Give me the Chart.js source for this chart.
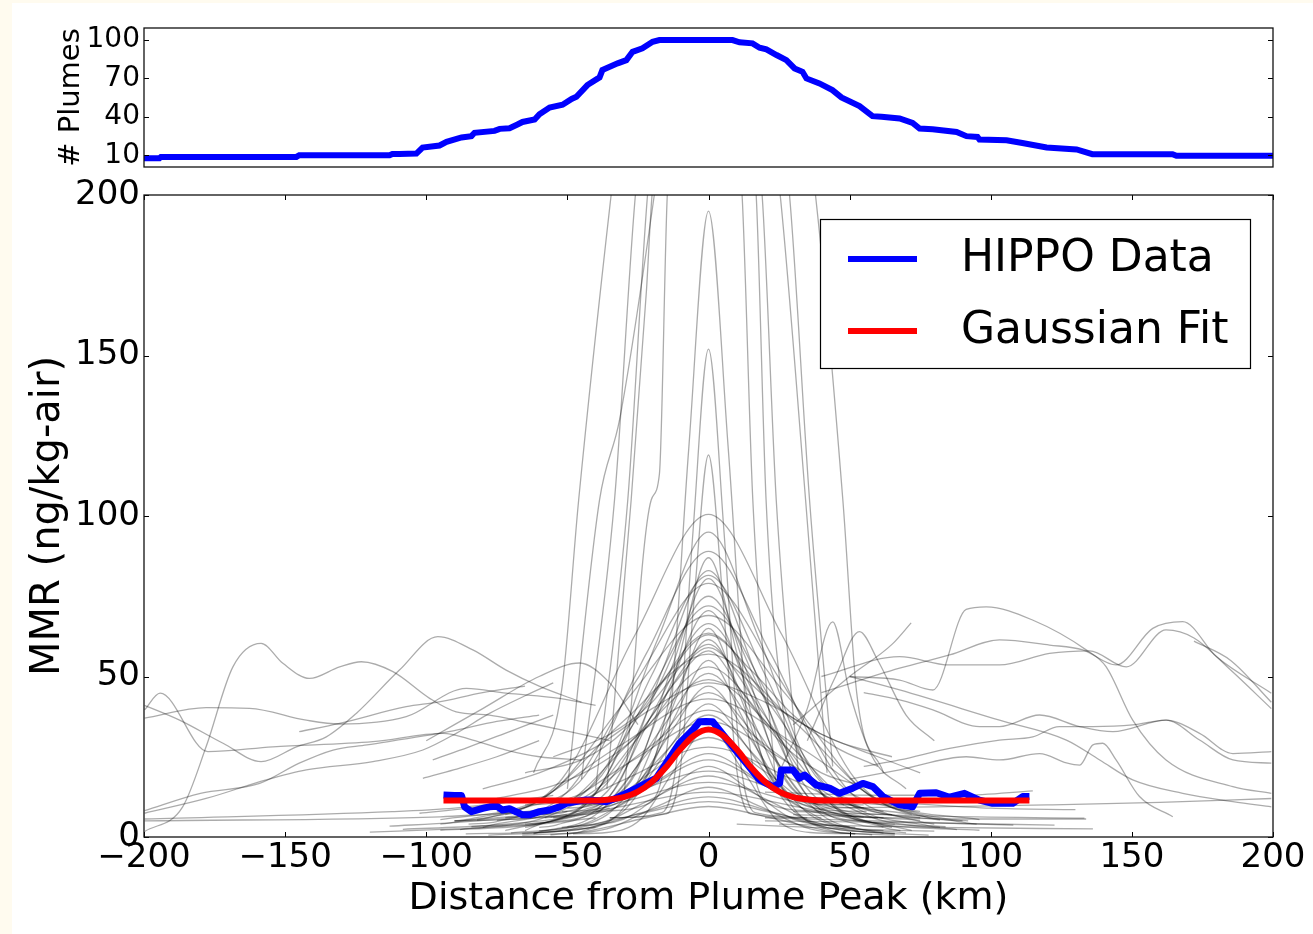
<!DOCTYPE html>
<html>
<head>
<meta charset="utf-8">
<script src="https://cdn.jsdelivr.net/npm/chart.js@4.4.0/dist/chart.umd.min.js"></script>
<style>
html, body { margin: 0; padding: 0; background: #fffbef; }
#sheet { position: absolute; left: 12px; top: 3px; width: 1301px; height: 931px; background: #fff; }
#topWrap { position: absolute; left: 0; top: 0; width: 1313px; height: 195px; }
#mainWrap { position: absolute; left: 0; top: 170px; width: 1313px; height: 764px; }
canvas { display: block; }
</style>
</head>
<body>
<div id="sheet"></div>
<div id="topWrap"><canvas id="plumeChart" width="1313" height="195"></canvas></div>
<div id="mainWrap"><canvas id="mmrChart" width="1313" height="764"></canvas></div>
<script>
// Number of plumes contributing at each distance (top panel)
var plumeDist  = [-200, -194.5, -194, -146, -145, -113, -112, -109.5, -103.5, -101.3, -95.3, -92.8, -87.5, -84, -82.9, -75.8, -74, -70.5, -67.7, -65.9, -61.6, -59.9, -56.3, -51.7, -48.5, -46.8, -42.9, -38.6, -37.6, -32.2, -29.1, -26.9, -23.4, -19.8, -17.4, 8.5, 11, 15.6, 18.1, 20.5, 24.1, 27.6, 30.5, 33.3, 34.7, 39.3, 43.9, 47.1, 53.5, 58.1, 61.3, 67.7, 72.3, 74.8, 79.4, 87.9, 91.4, 95.3, 96, 105.6, 111.2, 119.8, 130.4, 136, 164.4, 165.8, 200]
var plumeCount = [7.7, 7.7, 8.7, 8.7, 10, 10, 11, 11, 11.3, 16, 17.6, 20.4, 23.9, 24.9, 27.5, 29, 30.6, 31.1, 34, 36, 37.9, 42, 47.3, 49.4, 54, 55.6, 64.8, 70.8, 76.5, 81.8, 84.3, 90.8, 93.5, 98.6, 100, 100, 98.2, 97.4, 94, 92.7, 88.3, 84.3, 77.8, 75.2, 70, 66.1, 60.9, 55.2, 48.4, 40.5, 40, 38.7, 35.3, 30.9, 30.3, 28.2, 24.9, 24.3, 22.3, 21.7, 19.6, 16, 14.5, 10.8, 10.8, 9.5, 9.5]
var plumeTicks = [10, 40, 70, 100]

// Composite HIPPO profile
var hippoDist = [-93.9, -90, -87.5, -86.4, -84, -80, -77.6, -75, -73, -70.5, -68, -65.9, -63.4, -59.9, -56.3, -52.8, -50.4, -46, -43.3, -39, -36.2, -33, -29.2, -23.3, -18.5, -15, -10.3, -5.6, -3.2, -1, 1.5, 3.9, 8.6, 13.4, 18.1, 22.8, 25.2, 25.8, 29.9, 32.2, 34, 38.2, 42.9, 46.4, 51.1, 54.7, 58.2, 61.8, 67.7, 72.3, 74.8, 80.7, 85.4, 90.7, 96, 100.7, 107.8, 111.3, 113.7]
var hippoMmr  = [13.1, 12.9, 12.9, 9.4, 7.9, 8.9, 9.4, 9.6, 8.4, 8.8, 7.8, 6.9, 6.9, 7.9, 8.4, 9.4, 10.5, 11.2, 11.5, 11.3, 11, 12, 13.6, 16.2, 18.3, 23, 29.2, 33.3, 35.9, 36, 35.9, 33.3, 28.1, 23, 17.8, 15.7, 16.7, 20.9, 20.9, 18.3, 19.3, 16.2, 15.2, 13.6, 15.2, 16.7, 15.7, 12.6, 10, 9.4, 13.6, 13.8, 12.4, 13.6, 11.5, 10.5, 10.5, 12.6, 12.6]

// Gaussian fit
var fitDist = [-93.9, -60, -40, -35, -30, -25, -20, -15, -10, -5, 0, 5, 10, 15, 20, 25, 30, 35, 40, 60, 113.7]
var fitMmr  = [11.4, 11.4, 11.4, 11.7, 12.4, 14.1, 17.2, 21.8, 27.3, 31.7, 33.5, 31.7, 27.3, 21.8, 17.2, 14.1, 12.4, 11.7, 11.4, 11.4, 11.4]

// Individual plumes, as [km, mmr, km, mmr, ...]
var tallLines = [
    [-62, 20, -52, 46, -46, 105, -34.5, 200, -18, 320, 0, 360, 18, 320, 37.9, 200, 47.6, 105, 52.5, 45, 62, 20],
    [-50, 15, -38.6, 105, -31.5, 130, -19.2, 200, 0, 330, 16.9, 200, 20.4, 105, 28, 25],
    [-45, 18, -33.3, 105, -25.9, 200, 0, 390, 28.7, 200, 35.8, 105, 44, 22],
    [-40, 15, -28.6, 105, -21.6, 200, 0, 370, 25.4, 200, 34.4, 105, 42, 20],
    [-30, 12, -20.3, 105, -17.4, 113, -14.6, 200, 0, 300, 11.9, 200, 15.7, 105, 24, 15],
    [-36, 15, -27.4, 105, -22, 170, -20, 200, 0, 320, 19, 200, 24, 105, 32, 18]
]

var bellLines = [
    [-40, 8, -21, 10.5, -14, 33, -7, 121, 0, 195, 7, 121, 14, 33, 21, 10.5, 40, 8],
    [-35, 6, -16.5, 7.6, -11, 26, -5.5, 95, 0, 152, 5.5, 95, 11, 26, 16.5, 7.6, 40, 6],
    [-35, 6, -15, 7.2, -10, 21, -5, 75, 0, 119, 5, 75, 10, 21, 15, 7.2, 35, 6],
    [-90, 5, -78, 6, -52, 18, -26, 63, 0, 100.5, 26, 63, 52, 18, 78, 6, 90, 5],
    [-65, 10, -54, 10.9, -36, 21.5, -18, 61.6, 0, 95, 18, 61.6, 36, 21.5, 54, 10.9, 65, 10],
    [-75, 8, -66, 8.9, -44, 18.9, -22, 57.2, 0, 89, 22, 57.2, 44, 18.9, 66, 8.9, 75, 8],
    [-45, 12, -30, 12.8, -20, 22.1, -10, 57.5, 0, 87, 10, 57.5, 20, 22.1, 30, 12.8, 45, 12],
    [-55, 6, -48, 6.8, -32, 16.4, -16, 52.7, 0, 83, 16, 52.7, 32, 16.4, 48, 6.8, 60, 6],
    [-65, 3, -60, 3.9, -40, 13.6, -20, 50.6, 0, 81.5, 20, 50.6, 40, 13.6, 60, 3.9, 65, 3],
    [-50, 10, -39, 10.8, -26, 19.5, -13, 52.8, 0, 80.5, 13, 52.8, 26, 19.5, 39, 10.8, 55, 10],
    [-85, 4, -75, 4.8, -50, 14.1, -25, 49.5, 0, 79, 25, 49.5, 50, 14.1, 75, 4.8, 80, 4],
    [-60, 7, -51, 7.7, -34, 16.2, -17, 48.3, 0, 75, 17, 48.3, 34, 16.2, 51, 7.7, 65, 7],
    [-65, 2, -63, 2.8, -42, 11.5, -21, 44.5, 0, 72, 21, 44.5, 42, 11.5, 63, 2.8, 68, 2],
    [-50, 9, -42, 9.7, -28, 17.3, -14, 46.3, 0, 70.5, 14, 46.3, 28, 17.3, 42, 9.7, 55, 9],
    [-90, 5, -84, 5.7, -56, 13.6, -28, 43.8, 0, 69, 28, 43.8, 56, 13.6, 84, 5.7, 92, 5],
    [-60, 3, -54, 3.7, -36, 11.6, -18, 41.5, 0, 66.5, 18, 41.5, 36, 11.6, 54, 3.7, 62, 3],
    [-45, 12, -33, 12.6, -22, 19.2, -11, 44.2, 0, 65, 11, 44.2, 22, 19.2, 33, 12.6, 48, 12],
    [-72, 6, -66, 6.6, -44, 13.8, -22, 40.9, 0, 63.5, 22, 40.9, 44, 13.8, 66, 6.6, 75, 6],
    [-50, 1, -45, 1.7, -30, 9.2, -15, 37.7, 0, 61.5, 15, 37.7, 30, 9.2, 45, 1.7, 52, 1],
    [-62, 8, -57, 8.6, -38, 14.9, -19, 39, 0, 59, 19, 39, 38, 14.9, 57, 8.6, 62, 8],
    [-95, 4, -90, 4.6, -60, 11.2, -30, 36.2, 0, 57, 30, 36.2, 60, 11.2, 90, 4.6, 95, 4],
    [-45, 10, -36, 10.5, -24, 16.1, -12, 37.3, 0, 55, 12, 37.3, 24, 16.1, 36, 10.5, 48, 10],
    [-72, 2, -69, 2.6, -46, 8.9, -23, 33, 0, 53, 23, 33, 46, 8.9, 69, 2.6, 72, 2],
    [-58, 6, -51, 6.5, -34, 12.1, -17, 33.3, 0, 51, 17, 33.3, 34, 12.1, 51, 6.5, 62, 6],
    [-80, 3, -78, 3.5, -52, 9.2, -26, 30.9, 0, 49, 26, 30.9, 52, 9.2, 78, 3.5, 82, 3],
    [-52, 8, -42, 8.4, -28, 13.3, -14, 31.7, 0, 47, 14, 31.7, 28, 13.3, 42, 8.4, 56, 8],
    [-62, 1, -60, 1.5, -40, 6.9, -20, 27.7, 0, 45, 20, 27.7, 40, 6.9, 60, 1.5, 66, 1],
    [-95, 5.4, -64, 10.1, -32, 28.1, 0, 43, 32, 28.1, 64, 10.1, 96, 5.4],
    [-52, 3, -45, 3.4, -30, 8.2, -15, 26.4, 0, 41.5, 15, 26.4, 30, 8.2, 45, 3.4, 52, 3],
    [-72, 7, -69, 7.4, -46, 11.4, -23, 26.7, 0, 39.5, 23, 26.7, 46, 11.4, 69, 7.4, 72, 7],
    [-60, 2, -54, 2.4, -36, 6.9, -18, 23.9, 0, 38, 18, 23.9, 36, 6.9, 54, 2.4, 62, 2],
    [-82, 5.3, -54, 9.2, -27, 23.8, 0, 36, 27, 23.8, 54, 9.2, 82, 5.3],
    [-48, 1, -36, 1.4, -24, 5.5, -12, 21, 0, 34, 12, 21, 24, 5.5, 36, 1.4, 52, 1],
    [-65, 4, -60, 4.3, -40, 7.6, -20, 20.4, 0, 31, 20, 20.4, 40, 7.6, 60, 4.3, 66, 4],
    [-88, 2.3, -60, 5.5, -30, 17.8, 0, 28, 30, 17.8, 60, 5.5, 88, 2.3],
    [-56, 6.2, -34, 8.7, -17, 18.1, 0, 26, 17, 18.1, 34, 8.7, 55, 6.2],
    [-70, 1.3, -44, 4.1, -22, 15, 0, 24, 22, 15, 44, 4.1, 70, 1.3],
    [-50, 3.2, -30, 5.6, -15, 14.5, 0, 22, 15, 14.5, 30, 5.6, 50, 3.2],
    [-75, 5.2, -50, 7.1, -25, 14.4, 0, 20.5, 25, 14.4, 50, 7.1, 75, 5.2],
    [-62, 1.2, -40, 3.4, -20, 11.9, 0, 19, 20, 11.9, 40, 3.4, 62, 1.2],
    [-84, 3.2, -56, 4.9, -28, 11.5, 0, 17, 28, 11.5, 56, 4.9, 84, 3.2],
    [-56, 0.7, -36, 2.5, -18, 9.6, 0, 15.5, 18, 9.6, 36, 2.5, 58, 0.7],
    [-95, 2.1, -64, 3.6, -32, 9.3, 0, 14, 32, 9.3, 64, 3.6, 96, 2.1],
    [-66, 1.1, -44, 2.6, -22, 8, 0, 12.5, 22, 8, 44, 2.6, 66, 1.1],
    [-78, 0.6, -52, 1.9, -26, 6.9, 0, 11, 26, 6.9, 52, 1.9, 78, 0.6],
    [-66, 0.6, -44, 1.7, -22, 6, 0, 9.5, 22, 6, 44, 1.7, 66, 0.6],
    [-75, 12, -55, 16, -40, 22, -25, 32, -12, 48, 0, 58, 12, 45, 25, 30, 40, 20, 60, 15],
    [-65, 20, -45, 24, -30, 33, -15, 50, 0, 63, 15, 52, 30, 38, 45, 28, 60, 22],
    [-80, 15, -60, 20, -40, 28, -20, 40, 0, 48, 20, 42, 40, 32, 60, 25, 75, 20],
    [-55, 25, -35, 32, -20, 42, -8, 55, 0, 60, 10, 52, 25, 40, 45, 30, 65, 25]
]

var leftLines = [
    [-199.8, 1.7, -186.3, 9.4, -178, 28.1, -168.5, 53, -158.5, 60.3, -150.8, 54.1, -141.4, 49.4, -130.7, 53, -123, 54.6, -111.8, 51.5, -98.8, 43.2, -89.4, 39, -77.6, 38, -65.8, 35.9, -50, 33, -35, 30],
    [-199.8, 41, -187.4, 36.4, -172, 29.2, -158.5, 23.5, -146, 28.1, -135.4, 31.2, -124.8, 38.5, -109.5, 52, -95.9, 62.4, -83.5, 58.3, -71.7, 52, -60, 47, -45, 42],
    [-199.8, 39.6, -194.3, 44.8, -177.4, 26.6, -154.4, 28.1, -118.9, 29.7, -94.1, 32.3, -83.5, 30.2, -71.7, 27.1, -59.9, 25, -45, 24],
    [-199.8, 37, -178, 40.3, -162.6, 40.1, -142.5, 36.4, -130.7, 35.2, -107.1, 37.5, -85.8, 46.3, -71.7, 44.8, -52.8, 43.2, -40, 41],
    [-199.8, 8.2, -180, 13.6, -159, 16.7, -145, 23, -133, 27.1, -121, 28.7, -92, 32.8, -75, 36, -60, 38],
    [-199.8, 7.4, -178, 12, -156.7, 17.8, -142.5, 20.9, -118.9, 23.5, -101.2, 27.1, -89.4, 32.3, -77.6, 38.5, -65, 44, -55, 48],
    [-199.8, 5.6, -112, 7.9, -90, 9, -70, 11],
    [-199.8, 5, -95, 6.3, -80, 7, -60, 8],
    [-145, 32.8, -130.7, 35.4, -107.1, 40.6, -96, 42, -80, 45, -65, 47],
    [-97.7, 24, -85, 28, -70, 33, -55, 38],
    [-101.2, 18.3, -90, 21, -75, 25, -60, 30],
    [-100, 30, -80, 40, -60, 50, -45.7, 54.2, -35, 48, -25, 35]
]

var rightLines = [
    [50, 50, 67.7, 48.9, 79.5, 45.8, 91.3, 70.9, 98.4, 71.7, 114.8, 67.6, 133.8, 58.3, 140.9, 53, 150.3, 36.4, 162.1, 24, 185.8, 15.7, 199.4, 13.6],
    [40, 45, 67.7, 52.6, 85.4, 56.7, 103.1, 61.4, 120.8, 59.8, 132.6, 58.3, 144.4, 53.6, 157.4, 65, 168, 67.1, 179.9, 56.2, 199.4, 44.8],
    [40, 50, 67.7, 56.2, 85.4, 53.6, 103.1, 53.6, 120.8, 57.2, 135, 58, 148, 53, 162.1, 64.5, 172, 62, 185, 52, 199.4, 40],
    [172, 61, 185, 55, 199.4, 42],
    [55, 45, 67.7, 42.7, 79.5, 39.6, 96, 34.4, 103.1, 34.4, 117.3, 38, 131.5, 34.4, 143.3, 32.8, 162.1, 36.4, 174, 32.3, 185.8, 26, 199.4, 26.6],
    [55, 22, 67.7, 24, 85.4, 27.6, 103.1, 30.2, 114.9, 31.2, 124.3, 34.4, 136.1, 34.4, 150.3, 34.9, 162.1, 36.4, 174, 30.2, 185.8, 24, 199.4, 23],
    [50, 18, 67.7, 20.9, 91.3, 25, 103.1, 24, 117.3, 26, 126.8, 23.1, 131.5, 22.4, 136.2, 28.7, 139.7, 29.2, 144.4, 24, 152.7, 12.6, 164.5, 6.3],
    [50, 50, 67.7, 45.8, 103.1, 36.4, 126.8, 30.2, 138.6, 24, 150.3, 17.8, 168, 13.6, 185.8, 11, 199.4, 9.4],
    [40, 9, 80, 9.4, 120, 10, 160, 10.8, 199.4, 12],
    [30, 35, 50, 50, 65, 60, 71.8, 66.7],
    [25, 20, 35, 40, 44, 67, 50, 45, 58, 25, 70, 15],
    [35, 30, 45, 50, 53.5, 64, 60, 55, 70, 38, 80, 30]
]

var lowLines = [
    [-120, 1.5, -90, 2.5, -60, 4, -40, 6],
    [-113, 3.4, -90, 4.5, -70, 6, -50, 8],
    [-108.3, 2.4, -80, 3.5, -55, 5.5, -35, 9],
    [-102.4, 7.4, -85, 9, -70, 11, -55, 13],
    [-90, 5, -70, 5.5, -50, 7],
    [-86, 1, -60, 1.5, -40, 3],
    [20, 14, 60, 13, 90, 13, 114.9, 14.4],
    [30, 8, 80, 6.5, 133.2, 5.9],
    [30, 7, 90, 5.6, 133.8, 5.6],
    [25, 4, 80, 3, 136.2, 2.5],
    [20, 5, 70, 4.5, 122.6, 3.7],
    [20, 6, 60, 5, 108, 3.7],
    [10, 4, 50, 2.5, 80, 1.8],
    [35, 12, 70, 10.5, 100, 9, 130, 8.5]
]

var FONT = "'DejaVu Sans', sans-serif"
Chart.defaults.font.family = FONT
Chart.defaults.color = '#000'

function zipPoints(xs, ys) {
    return xs.map(function (x, i) { return {x: x, y: ys[i]} })
}

function flatPoints(flat) {
    var pts = []
    for (var i = 0; i < flat.length; i += 2) pts.push({x: flat[i], y: flat[i + 1]})
    return pts
}

function minus(v) {
    return v < 0 ? '\u2212' + Math.abs(v) : String(v)
}

/**
 * Matplotlib style frame with inward ticks on every side.
 */
var frameTicks = {
    id: 'frameTicks',
    afterDraw: function (chart, args, opts) {
        var ctx = chart.ctx, a = chart.chartArea, len = 5
        ctx.save()
        ctx.strokeStyle = '#000'
        ctx.lineWidth = 1
        ctx.beginPath()
        if (opts.xTicks) {
            chart.scales.x.ticks.forEach(function (t) {
                var px = Math.round(chart.scales.x.getPixelForValue(t.value)) + 0.5
                ctx.moveTo(px, a.bottom); ctx.lineTo(px, a.bottom - len)
                ctx.moveTo(px, a.top); ctx.lineTo(px, a.top + len)
            })
        }
        chart.scales.y.ticks.forEach(function (t) {
            var py = Math.round(chart.scales.y.getPixelForValue(t.value)) + 0.5
            ctx.moveTo(a.left, py); ctx.lineTo(a.left + len, py)
            ctx.moveTo(a.right, py); ctx.lineTo(a.right - len, py)
        })
        ctx.stroke()
        ctx.lineWidth = 1.3
        ctx.strokeStyle = '#111'
        ctx.strokeRect(a.left, a.top, a.right - a.left, a.bottom - a.top)
        ctx.restore()
    }
}

/**
 * Boxed legend in the upper right corner.
 */
var boxLegend = {
    id: 'boxLegend',
    afterDatasetsDraw: function (chart) {
        var ctx = chart.ctx, a = chart.chartArea
        var x0 = a.right - 453, y0 = a.top + 24, w = 430, h = 149
        var items = chart.data.datasets.filter(function (d) { return d.label })

        ctx.save()
        ctx.fillStyle = '#fff'
        ctx.fillRect(x0, y0, w, h)
        ctx.strokeStyle = '#000'
        ctx.lineWidth = 1.2
        ctx.strokeRect(x0 + 0.5, y0 + 0.5, w, h)

        items.sort(function (p, q) { return p.legendRank - q.legendRank })
        items.forEach(function (d, i) {
            var y = y0 + 40 + i * 72
            ctx.strokeStyle = d.borderColor
            ctx.lineWidth = 6
            ctx.beginPath()
            ctx.moveTo(x0 + 28, y)
            ctx.lineTo(x0 + 97, y)
            ctx.stroke()
            ctx.fillStyle = '#000'
            ctx.font = '44px ' + FONT
            ctx.textBaseline = 'middle'
            ctx.fillText(d.label, x0 + 141, y + 1)
        })
        ctx.restore()
    }
}

// Top panel: number of plumes
new Chart(document.getElementById('plumeChart'), {
    type: 'line',
    data: {
        datasets: [{
            data: zipPoints(plumeDist, plumeCount),
            borderColor: '#0000ff',
            borderWidth: 6,
            pointRadius: 0,
            tension: 0,
            clip: 0
        }]
    },
    options: {
        responsive: false,
        animation: false,
        devicePixelRatio: 1,
        layout: { padding: { top: 28, right: 40, bottom: 28, left: 0 } },
        plugins: { legend: { display: false }, tooltip: { enabled: false }, frameTicks: { xTicks: false } },
        scales: {
            x: { type: 'linear', min: -200, max: 200, display: false },
            y: {
                min: 0.8, max: 109.4,
                grid: { display: false, drawTicks: false },
                border: { display: false },
                afterBuildTicks: function (scale) {
                    scale.ticks = plumeTicks.map(function (v) { return {value: v} })
                },
                afterFit: function (scale) { scale.width = 144 },
                ticks: { font: { size: 28 }, padding: 4 },
                title: { display: true, text: '# Plumes', font: { size: 29 }, padding: { top: 54, bottom: 0 } }
            }
        }
    },
    plugins: [frameTicks]
})

// Bottom panel: MMR profiles
var datasets = [
    {
        label: 'Gaussian Fit', legendRank: 1,
        data: zipPoints(fitDist, fitMmr),
        borderColor: '#ff0000', borderWidth: 6,
        cubicInterpolationMode: 'monotone', order: 0
    },
    {
        label: 'HIPPO Data', legendRank: 0,
        data: zipPoints(hippoDist, hippoMmr),
        borderColor: '#0000ff', borderWidth: 7,
        tension: 0, borderJoinStyle: 'round', order: 1
    }
]

var grayLines = tallLines.concat(bellLines, leftLines, rightLines, lowLines)
grayLines.forEach(function (line) {
    datasets.push({
        data: flatPoints(line),
        borderColor: 'rgba(0,0,0,0.33)',
        borderWidth: 1.3,
        cubicInterpolationMode: 'monotone',
        order: 2
    })
})

new Chart(document.getElementById('mmrChart'), {
    type: 'line',
    data: { datasets: datasets },
    options: {
        responsive: false,
        animation: false,
        devicePixelRatio: 1,
        elements: { point: { radius: 0 } },
        layout: { padding: { top: 25, right: 40, bottom: 0, left: 0 } },
        plugins: { legend: { display: false }, tooltip: { enabled: false }, frameTicks: { xTicks: true } },
        scales: {
            x: {
                type: 'linear', min: -200, max: 200,
                grid: { display: false, drawTicks: false },
                border: { display: false },
                afterFit: function (scale) { scale.height = 97 },
                ticks: { stepSize: 50, font: { size: 34 }, padding: 1, maxRotation: 0, autoSkip: false, callback: minus },
                title: { display: true, text: 'Distance from Plume Peak (km)', font: { size: 38 }, padding: { top: 0, bottom: 12 } }
            },
            y: {
                min: 0, max: 200,
                grid: { display: false, drawTicks: false },
                border: { display: false },
                afterFit: function (scale) { scale.width = 144 },
                ticks: { stepSize: 50, font: { size: 34 }, padding: 4 },
                title: { display: true, text: 'MMR (ng/kg-air)', font: { size: 40 }, padding: { top: 25, bottom: 0 } }
            }
        }
    },
    plugins: [frameTicks, boxLegend]
})
</script>
</body>
</html>
